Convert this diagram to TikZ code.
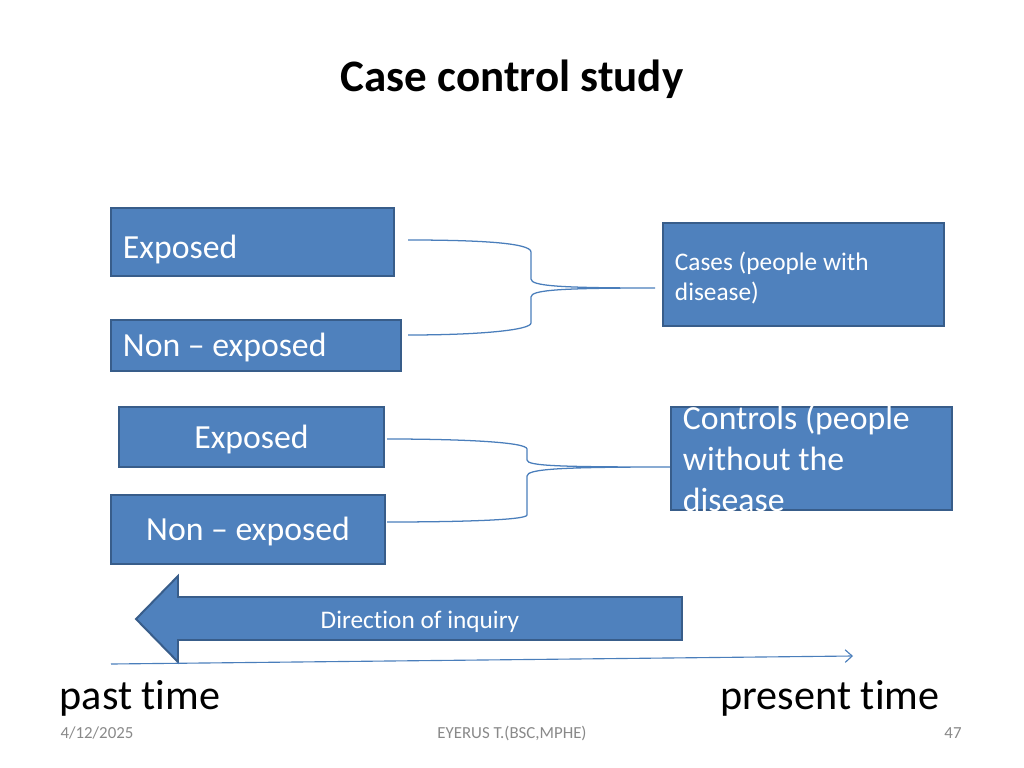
\documentclass[tikz,border=0pt]{standalone}
\usepackage{fontspec}
\setmainfont{Carlito}[Ligatures={TeX,NoCommon}]
\usepackage{tikz}
\usetikzlibrary{arrows,arrows.meta,positioning,calc}

\definecolor{boxblue}{RGB}{79,129,189}
\definecolor{boxline}{RGB}{56,93,138}
\definecolor{linkblue}{RGB}{74,126,187}
\definecolor{footgray}{RGB}{137,137,137}

\begin{document}
\begin{tikzpicture}[
    x=0.025cm, y=-0.025cm,
    box/.style = {rectangle, draw=boxline, line width=1.4pt, fill=boxblue, text=white, font=\fontsize{24}{29}\selectfont},
    leftbox/.style = {box, align=flush left, inner xsep=0.3cm},
    brace/.style = {draw=linkblue, line width=0.9pt},
    timeline/.style = {-{Straight Barb[length=5pt,width=9pt]}, draw=linkblue, line width=0.8pt},
    footer/.style = {text=footgray, font=\fontsize{12}{14}\selectfont}
]
    \useasboundingbox (0,0) rectangle (1024,768);

    % Title
    \node[font=\fontsize{32}{38}\selectfont\bfseries] (title) at (512,79) {Case control study};

    % Cases side
    \node[leftbox, minimum width=7.075cm, minimum height=1.7cm, text width=6.475cm, text height=28pt, text depth=5pt] (exp1) at (252.5,242) {Exposed};
    \node[leftbox, minimum width=7.25cm, minimum height=1.275cm, text width=6.65cm, text height=21pt, text depth=5pt] (nonexp1) at (256,345.5) {Non – exposed};
    \node[leftbox, minimum width=7.025cm, minimum height=2.575cm, text width=6.425cm, text height=18pt, font=\fontsize{18}{21.5}\selectfont] (cases) at (803.5,274.5) {Cases (people with\\disease)};

    % Controls side
    \node[box, minimum width=6.625cm, minimum height=1.5cm, text height=21pt, text depth=5pt] (exp2) at (251.5,437) {Exposed};
    \node[box, minimum width=6.85cm, minimum height=1.725cm, text height=21pt, text depth=5pt] (nonexp2) at (248,529.5) {Non – exposed};
    \node[leftbox, minimum width=7.025cm, minimum height=2.575cm, text width=6.425cm, inner ysep=-6pt] (controls) at (811.5,458.5) {Controls (people\\without the\\disease};

    % Braces
    \coordinate (b1top) at (408,240);
    \coordinate (b1bot) at (408,335);
    \coordinate (b1tip) at (655,288);
    \draw[brace] (b1top) .. controls (480,240) and (531,243) .. (531,252) -- (531,279)
        .. controls (531,286) and (560,288) .. (b1tip)
        .. controls (560,288) and (531,290) .. (531,297) -- (531,323)
        .. controls (531,330) and (480,335) .. (b1bot);

    \coordinate (b2top) at (387,439);
    \coordinate (b2bot) at (387,522);
    \coordinate (b2tip) at (controls.west |- 0,467);
    \draw[brace] (b2top) .. controls (460,439) and (527,442) .. (527,449) -- (527,460)
        .. controls (527,466) and (560,467) .. (b2tip)
        .. controls (560,467) and (527,469) .. (527,476) -- (527,515)
        .. controls (527,520) and (460,522) .. (b2bot);

    % Direction of inquiry
    \draw[boxline, line width=1.4pt, fill=boxblue] (136,619) -- (178,576) -- (178,597) -- (682,597)
        -- (682,640) -- (178,640) -- (178,662) -- cycle;
    \node[text=white, font=\fontsize{18}{22}\selectfont] (inquiry) at (420,622) {Direction of inquiry};

    % Time axis
    \coordinate (tstart) at (111,664);
    \coordinate (tend) at (853,656);
    \draw[timeline] (tstart) -- (tend);
    \node[font=\fontsize{30}{36}\selectfont] (past) at (140,698) {past time};
    \node[font=\fontsize{30}{36}\selectfont] (present) at (830,698) {present time};

    % Footer
    \node[footer] (date) at (97,733) {4/12/2025};
    \node[footer] (author) at (512,733) {EYERUS T.(BSC,MPHE)};
    \node[footer] (page) at (953,733) {47};

\end{tikzpicture}
\end{document}
